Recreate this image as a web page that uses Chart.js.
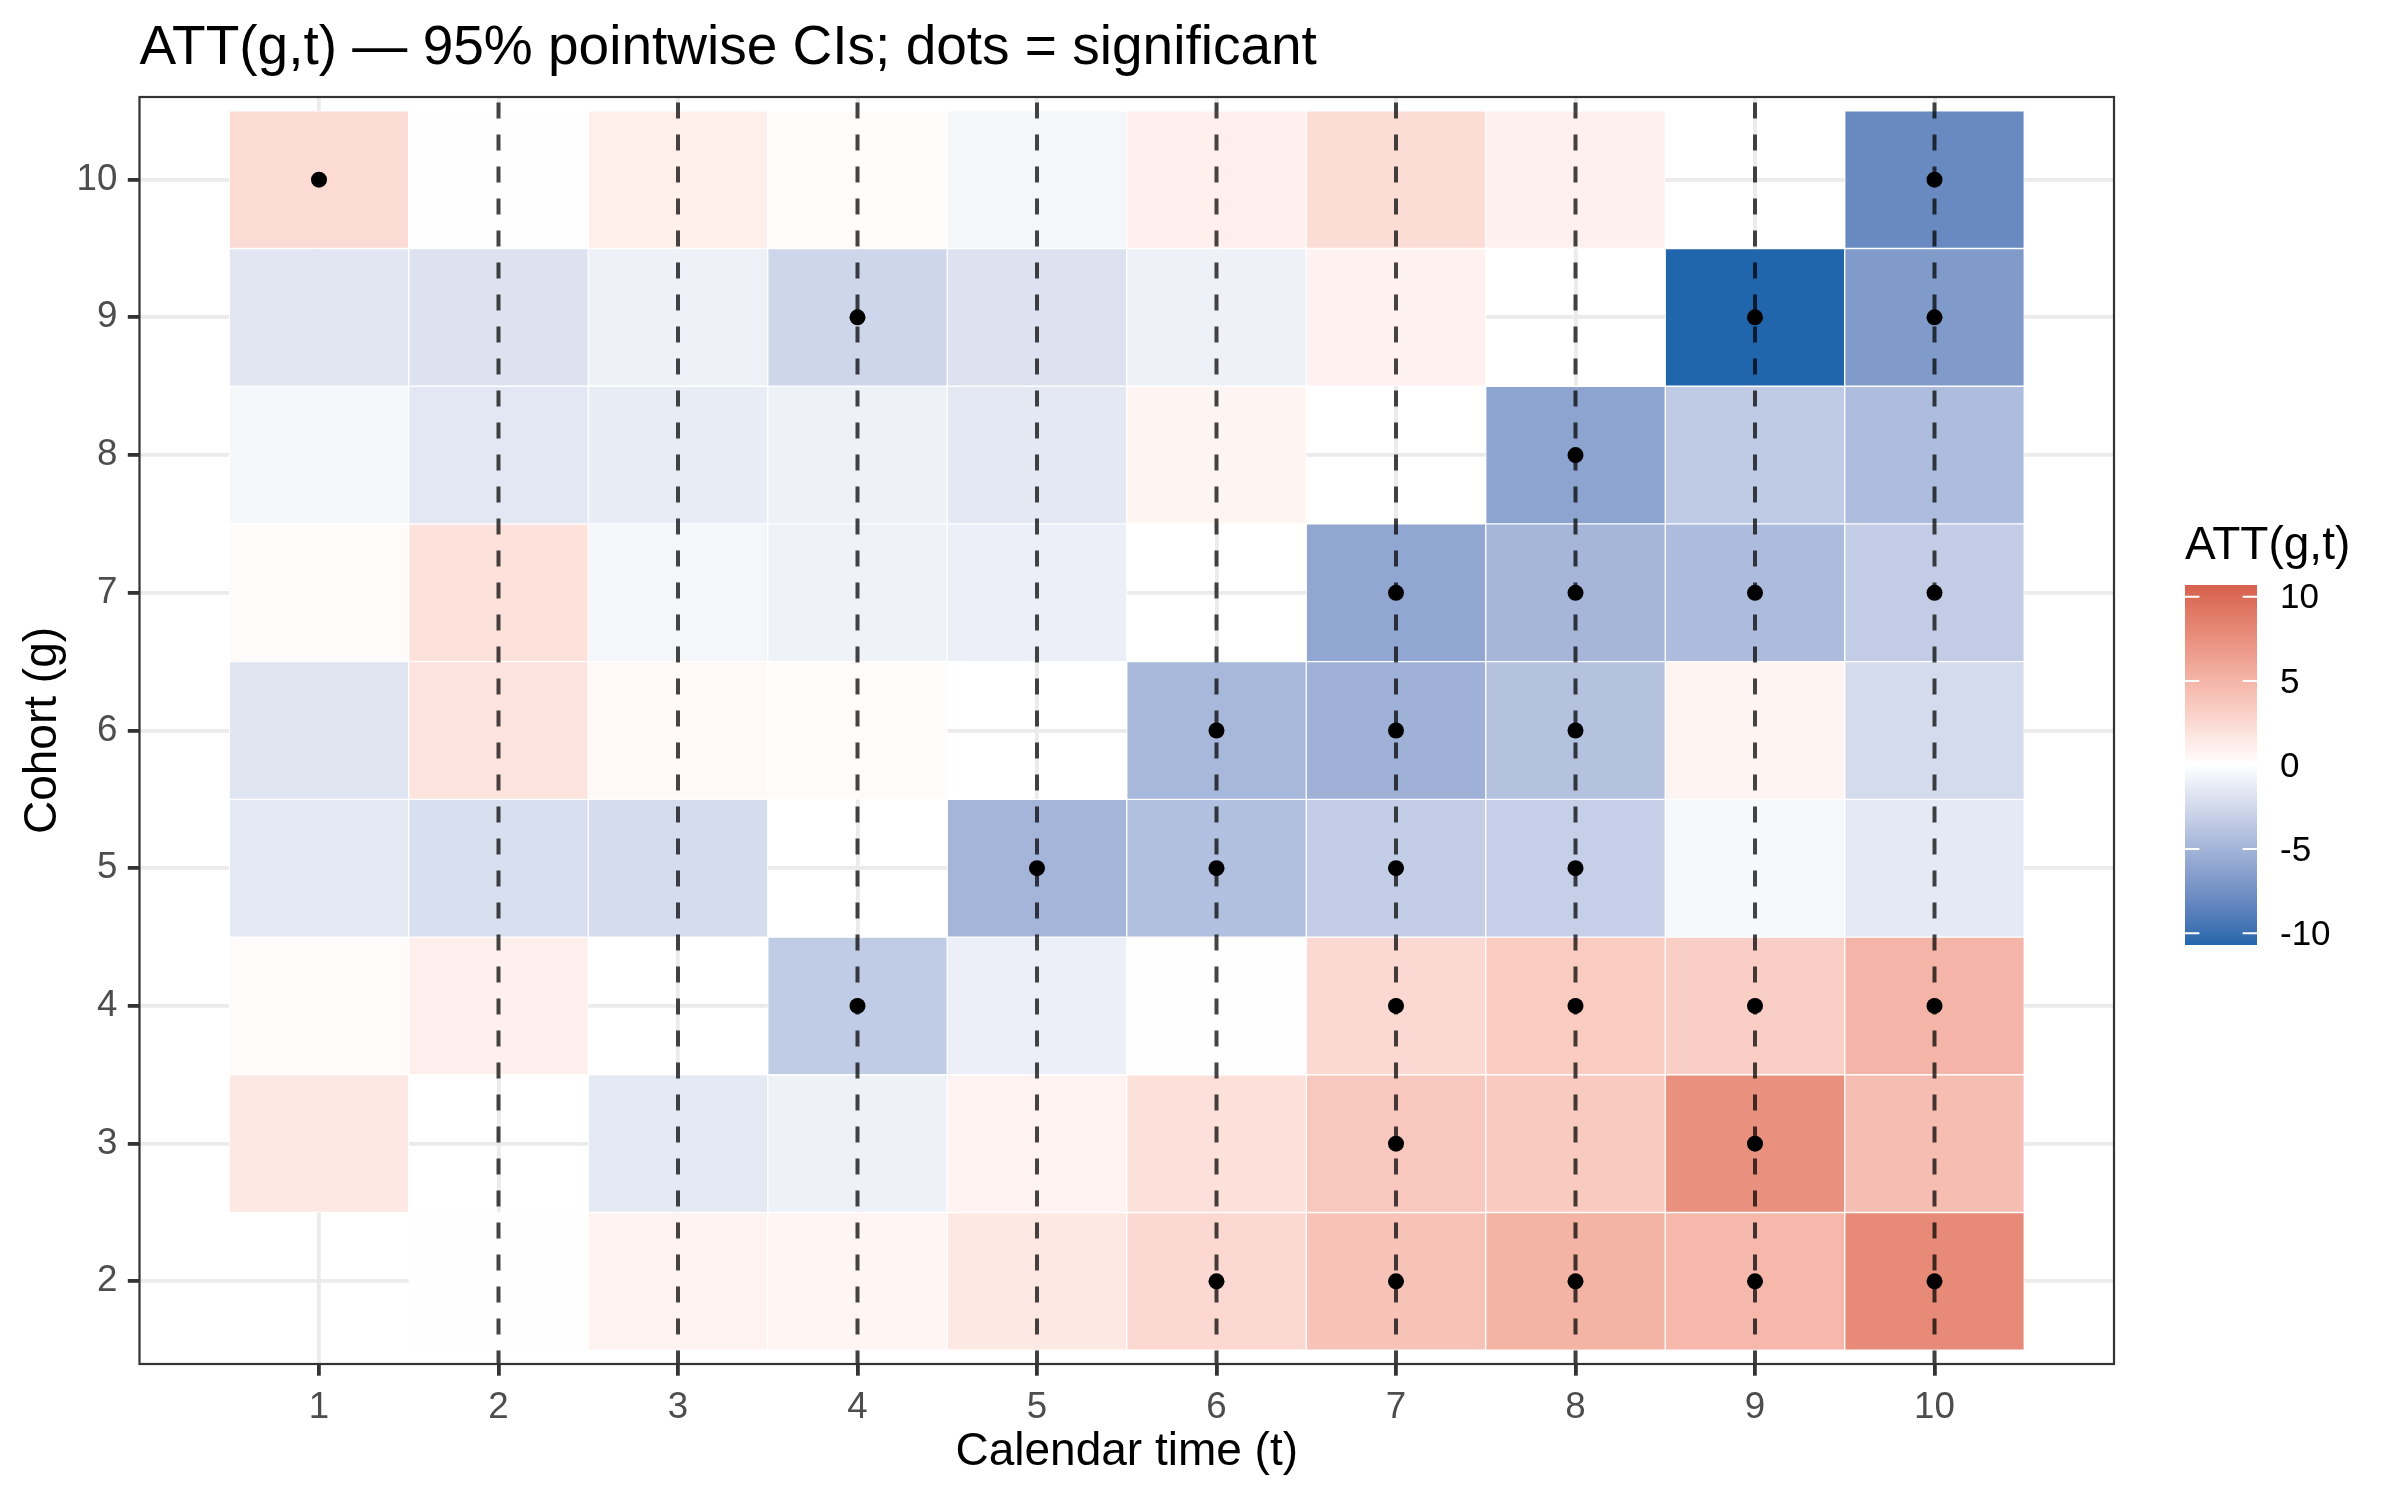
<!DOCTYPE html>
<html>
<head>
<meta charset="utf-8">
<title>ATT(g,t) heatmap</title>
<script src="https://cdn.jsdelivr.net/npm/chart.js@4.4.1/dist/chart.umd.min.js"></script>
<style>
  html, body { margin: 0; padding: 0; background: #ffffff; }
  #wrap { width: 2400px; height: 1500px; }
</style>
</head>
<body>
<div id="wrap"><canvas id="attChart" width="2400" height="1500"></canvas></div>
<script>
'use strict';

// axis categories
const calendarTimes = [1, 2, 3, 4, 5, 6, 7, 8, 9, 10];
const cohorts = [2, 3, 4, 5, 6, 7, 8, 9, 10];

// ATT(g,t) estimates, one array per cohort, indexed by calendar time (null = not estimated)
const att_g2  = [null, 0.05, 0.8, 0.6, 1.55, 2.55, 4.05, 5.15, 4.8, 7.95];
const att_g3  = [1.55, null, -1.4, -0.9, 0.8, 2.1, 3.7, 3.6, 7.5, 4.4];
const att_g4  = [0.25, 1.05, null, -3.4, -1.05, 0.05, 2.55, 3.5, 3.3, 5.05];
const att_g5  = [-1.45, -2.15, -2.3, null, -4.95, -4.2, -3.25, -3.15, -0.45, -1.45];
const att_g6  = [-1.7, 1.9, 0.4, 0.3, null, -4.75, -5.2, -4.1, 0.75, -2.35];
const att_g7  = [0.25, 1.95, -0.6, -0.85, -1.05, null, -5.95, -4.85, -4.45, -3.3];
const att_g8  = [-0.5, -1.55, -1.25, -0.9, -1.5, 0.75, null, -6.1, -3.5, -4.4];
const att_g9  = [-1.65, -1.9, -0.9, -2.7, -1.9, -0.9, 0.85, null, -10.7, -6.85];
const att_g10 = [2.4, 0.05, 1.1, 0.2, -0.6, 1.05, 2.3, 1.0, null, -8.0];

// calendar times where the pointwise 95% CI excludes zero
const sig_g2  = [6, 7, 8, 9, 10];
const sig_g3  = [7, 9];
const sig_g4  = [4, 7, 8, 9, 10];
const sig_g5  = [5, 6, 7, 8];
const sig_g6  = [6, 7, 8];
const sig_g7  = [7, 8, 9, 10];
const sig_g8  = [8];
const sig_g9  = [4, 9, 10];
const sig_g10 = [1, 10];

// dashed reference lines
const vlineTimes = [2, 3, 4, 5, 6, 7, 8, 9, 10];

// ticks
const xTicks = [1, 2, 3, 4, 5, 6, 7, 8, 9, 10];
const yTicks = [2, 3, 4, 5, 6, 7, 8, 9, 10];
const legendBreaks = [-10, -5, 0, 5, 10];

const chartTitle = 'ATT(g,t) \u2014 95% pointwise CIs; dots = significant';
const FONT = '"Liberation Sans", Arial, sans-serif';

const attByCohort = {2: att_g2, 3: att_g3, 4: att_g4, 5: att_g5, 6: att_g6,
  7: att_g7, 8: att_g8, 9: att_g9, 10: att_g10};
const sigByCohort = {2: sig_g2, 3: sig_g3, 4: sig_g4, 5: sig_g5, 6: sig_g6,
  7: sig_g7, 8: sig_g8, 9: sig_g9, 10: sig_g10};

const xMin = 0, xMax = 11, yMin = 1.4, yMax = 10.6;

/* diverging fill scale, interpolated in Lab like scale_fill_gradient2 */
function hexToRgb(h) {
  return [1, 3, 5].map(i => parseInt(h.slice(i, i + 2), 16));
}
function toLinear(c) {
  c /= 255;
  return c <= 0.04045 ? c / 12.92 : Math.pow((c + 0.055) / 1.055, 2.4);
}
function fromLinear(c) {
  const v = c <= 0.0031308 ? 12.92 * c : 1.055 * Math.pow(c, 1 / 2.4) - 0.055;
  return Math.round(Math.max(0, Math.min(1, v)) * 255);
}
const WX = 0.95047, WY = 1.0, WZ = 1.08883;
function labF(t) { return t > 216 / 24389 ? Math.cbrt(t) : (24389 / 27 * t + 16) / 116; }
function labFInv(t) { return t * t * t > 216 / 24389 ? t * t * t : (116 * t - 16) / (24389 / 27); }
function rgbToLab(hex) {
  const [r, g, b] = hexToRgb(hex).map(toLinear);
  const x = 0.4124 * r + 0.3576 * g + 0.1805 * b;
  const y = 0.2126 * r + 0.7152 * g + 0.0722 * b;
  const z = 0.0193 * r + 0.1192 * g + 0.9505 * b;
  const fx = labF(x / WX), fy = labF(y / WY), fz = labF(z / WZ);
  return [116 * fy - 16, 500 * (fx - fy), 200 * (fy - fz)];
}
function labToCss([L, a, bb]) {
  const fy = (L + 16) / 116, fx = fy + a / 500, fz = fy - bb / 200;
  const x = WX * labFInv(fx), y = WY * labFInv(fy), z = WZ * labFInv(fz);
  const r = 3.2406 * x - 1.5372 * y - 0.4986 * z;
  const g = -0.9689 * x + 1.8758 * y + 0.0415 * z;
  const b = 0.0557 * x - 0.2040 * y + 1.0570 * z;
  return 'rgb(' + fromLinear(r) + ',' + fromLinear(g) + ',' + fromLinear(b) + ')';
}

const labLow = rgbToLab('#2166AC');
const labMid = rgbToLab('#FFFFFF');
const labHigh = rgbToLab('#D6604D');
let fillLimit = 0;
cohorts.forEach(g => attByCohort[g].forEach(v => {
  if (v !== null) fillLimit = Math.max(fillLimit, Math.abs(v));
}));

function fillColour(v) {
  const t = Math.max(-1, Math.min(1, v / fillLimit));
  const end = t < 0 ? labLow : labHigh;
  const f = Math.abs(t);
  return labToCss(labMid.map((m, i) => m + (end[i] - m) * f));
}

/* datasets */
const tileData = [];
const tileColours = [];
cohorts.forEach(g => {
  attByCohort[g].forEach((v, i) => {
    if (v === null) return;
    tileData.push({x: calendarTimes[i], y: [g - 0.5, g + 0.5]});
    tileColours.push(fillColour(v));
  });
});

const dotData = [];
cohorts.forEach(g => sigByCohort[g].forEach(t => dotData.push({x: t, y: g})));

const vlineSets = vlineTimes.map(t => ({
  type: 'line',
  data: [{x: t, y: yMin}, {x: t, y: yMax}],
  borderColor: 'rgba(0,0,0,0.73)',
  borderWidth: 4,
  borderDash: [16, 16],
  borderDashOffset: 2.5,
  pointRadius: 0,
  fill: false,
  order: 2
}));

const gridStyle = {
  color: '#EBEBEB',
  lineWidth: 3.8,
  offset: false,
  drawOnChartArea: true,
  tickLength: 11.7,
  tickColor: '#333333',
  tickWidth: 3.8
};

/* title, panel border and colour bar */
const extrasPlugin = {
  id: 'extras',
  afterDatasetsDraw(chart) {
    const {ctx, chartArea: a} = chart;
    ctx.save();
    ctx.strokeStyle = '#333333';
    ctx.lineWidth = 2.2;
    ctx.strokeRect(a.left, a.top, a.right - a.left, a.bottom - a.top);

    ctx.fillStyle = '#000000';
    ctx.textAlign = 'left';
    ctx.textBaseline = 'alphabetic';
    ctx.font = '55px ' + FONT;
    ctx.fillText(chartTitle, a.left, 64);

    // colour bar
    const barX = 2185, barY = 585, barW = 72, barH = 360;
    ctx.font = '46px ' + FONT;
    ctx.fillText('ATT(g,t)', barX, 559);
    const grad = ctx.createLinearGradient(0, barY, 0, barY + barH);
    const n = 40;
    for (let i = 0; i <= n; i++) {
      grad.addColorStop(i / n, fillColour(fillLimit - 2 * fillLimit * i / n));
    }
    ctx.fillStyle = grad;
    ctx.fillRect(barX, barY, barW, barH);

    ctx.strokeStyle = '#ffffff';
    ctx.lineWidth = 2;
    ctx.fillStyle = '#000000';
    ctx.font = '35px ' + FONT;
    ctx.textBaseline = 'middle';
    legendBreaks.forEach(b => {
      const y = barY + (fillLimit - b) / (2 * fillLimit) * barH;
      ctx.beginPath();
      ctx.moveTo(barX, y); ctx.lineTo(barX + barW / 5, y);
      ctx.moveTo(barX + barW - barW / 5, y); ctx.lineTo(barX + barW, y);
      ctx.stroke();
      ctx.fillText(String(b), 2280, y + 2);
    });
    ctx.restore();
  }
};

const ctx = document.getElementById('attChart').getContext('2d');
new Chart(ctx, {
  type: 'bar',
  data: {
    datasets: [
      {
        type: 'scatter',
        data: dotData,
        pointRadius: 8,
        pointBackgroundColor: '#000000',
        pointBorderWidth: 0,
        showLine: false,
        order: 1
      },
      ...vlineSets,
      {
        type: 'bar',
        data: tileData,
        backgroundColor: tileColours,
        borderColor: '#ffffff',
        borderWidth: 1,
        borderSkipped: false,
        barPercentage: 1,
        categoryPercentage: 1,
        order: 3
      }
    ]
  },
  options: {
    responsive: false,
    animation: false,
    devicePixelRatio: 1,
    events: [],
    layout: { padding: { top: 97, right: 286, bottom: 0, left: 0 } },
    plugins: { legend: { display: false }, tooltip: { enabled: false } },
    scales: {
      x: {
        type: 'linear',
        min: xMin,
        max: xMax,
        offset: false,
        afterBuildTicks: s => { s.ticks = xTicks.map(v => ({value: v})); },
        afterFit: s => { s.height = 136; },
        grid: gridStyle,
        border: { display: false },
        ticks: { color: '#4D4D4D', font: { family: FONT, size: 36.7 }, padding: 10,
          autoSkip: false, maxRotation: 0 },
        title: { display: true, text: 'Calendar time (t)', color: '#000000',
          font: { family: FONT, size: 46 }, padding: { top: 0, bottom: 20 } }
      },
      y: {
        type: 'linear',
        min: yMin,
        max: yMax,
        afterBuildTicks: s => { s.ticks = yTicks.map(v => ({value: v})); },
        afterFit: s => { s.width = 139.5; },
        grid: gridStyle,
        border: { display: false },
        ticks: { color: '#4D4D4D', font: { family: FONT, size: 36.7 }, padding: 10.5 },
        title: { display: true, text: 'Cohort (g)', color: '#000000',
          font: { family: FONT, size: 46 }, padding: { top: 16, bottom: 0 } }
      }
    }
  },
  plugins: [extrasPlugin]
});
</script>
</body>
</html>
